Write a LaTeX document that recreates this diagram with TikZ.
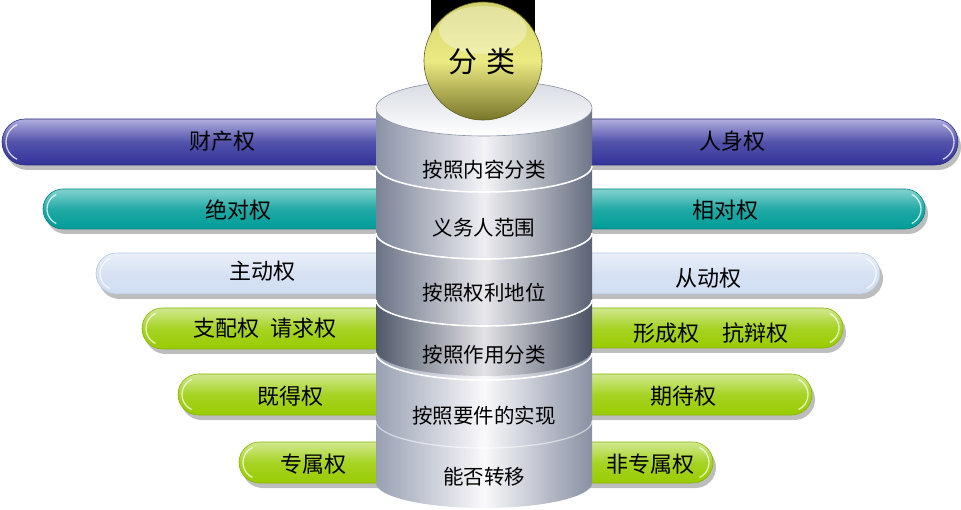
\documentclass[tikz,border=0pt]{standalone}
\usepackage{fontspec}
\newfontfamily\cjk{Noto Sans CJK SC}
\usetikzlibrary{calc}
\definecolor{purpleB}{HTML}{33339A}
\definecolor{purpleT}{HTML}{B0AEDE}
\definecolor{purpleE}{HTML}{2A2A80}
\definecolor{tealB}{HTML}{009C98}
\definecolor{tealT}{HTML}{84D2CE}
\definecolor{tealE}{HTML}{00807C}
\definecolor{lblueB}{HTML}{D0DDF2}
\definecolor{lblueT}{HTML}{EAF0F9}
\definecolor{lblueE}{HTML}{B8C6DC}
\definecolor{greenB}{HTML}{99CC00}
\definecolor{greenT}{HTML}{D0E890}
\definecolor{greenE}{HTML}{88B400}
\definecolor{shadowC}{HTML}{BDBDBD}
\definecolor{sAl}{HTML}{8A92A6}\definecolor{sAm}{HTML}{F4F4F7}\definecolor{sAr}{HTML}{6E7688}
\definecolor{sBl}{HTML}{7A8296}\definecolor{sBm}{HTML}{EEEEF2}\definecolor{sBr}{HTML}{646C7E}
\definecolor{sCl}{HTML}{6A7286}\definecolor{sCm}{HTML}{E8E8EC}\definecolor{sCr}{HTML}{5A6274}
\definecolor{sDl}{HTML}{50586A}\definecolor{sDm}{HTML}{E2E2E6}\definecolor{sDr}{HTML}{4A5264}
\definecolor{sLl}{HTML}{98A0B2}\definecolor{sLm}{HTML}{FAFAFC}\definecolor{sLr}{HTML}{8890A2}
\definecolor{topF}{HTML}{D6DAE2}
\definecolor{ballT}{HTML}{D2D06A}
\definecolor{ballM}{HTML}{ECEA82}
\definecolor{ballB}{HTML}{78762A}
\definecolor{ballE}{HTML}{5E5C1C}

\newcommand{\mkleftbar}[7]{%
  \pgfmathsetmacro\rr{(#3-#2)/2}%
  \pgfmathsetmacro\cyy{(#3+#2)/2}%
  \pgfmathsetmacro\cxx{#1+\rr}%
  \pgfmathsetmacro\rh{\rr-4}%
  \fill[shadowC, rounded corners=\rr pt] (#1+3,#2+5) rectangle (#7+3,#3+5);
  \shade[top color=#4, bottom color=#5, middle color=#5!75!#4, draw=#6, line width=.6pt, rounded corners=\rr pt] (#1,#2) rectangle (#7,#3);
  \draw[white, opacity=.75, line width=1.3pt] ($(\cxx,\cyy)+(115:\rh)$) arc[start angle=115, end angle=245, radius=\rh];
}
\newcommand{\mkrightbar}[7]{%
  \pgfmathsetmacro\rr{(#3-#2)/2}%
  \pgfmathsetmacro\cyy{(#3+#2)/2}%
  \pgfmathsetmacro\cxx{#1-\rr}%
  \pgfmathsetmacro\rh{\rr-4}%
  \fill[shadowC, rounded corners=\rr pt] (#7+3,#2+5) rectangle (#1+3,#3+5);
  \shade[top color=#4, bottom color=#5, middle color=#5!75!#4, draw=#6, line width=.6pt, rounded corners=\rr pt] (#7,#2) rectangle (#1,#3);
  \draw[white, opacity=.75, line width=1.3pt] ($(\cxx,\cyy)+(-65:\rh)$) arc[start angle=-65, end angle=65, radius=\rh];
}

\begin{document}
\begin{tikzpicture}[x=1pt,y=-1pt,
  lbl/.style={font=\cjk\fontsize{22}{24}\selectfont, inner sep=0pt, text=black},
  segtxt/.style={font=\cjk\fontsize{20.5}{22}\selectfont, inner sep=0pt, text=black},
  balltxt/.style={font=\cjk\fontsize{29}{31}\selectfont, inner sep=0pt, text=black},
  seam/.style={white, line width=1.6pt},
]
\useasboundingbox (0,0) rectangle (961,510);

% ---- left bars ----
\mkleftbar{2}{119}{165}{purpleT}{purpleB}{purpleE}{484}
\mkleftbar{43}{189}{229}{tealT}{tealB}{tealE}{484}
\mkleftbar{96}{253}{294}{lblueT}{lblueB}{lblueE}{484}
\mkleftbar{142}{308}{349}{greenT}{greenB}{greenE}{484}
\mkleftbar{178}{374}{415}{greenT}{greenB}{greenE}{484}
\mkleftbar{239}{442}{483}{greenT}{greenB}{greenE}{484}
% ---- right bars ----
\mkrightbar{958}{119}{165}{purpleT}{purpleB}{purpleE}{484}
\mkrightbar{925}{189}{229}{tealT}{tealB}{tealE}{484}
\mkrightbar{880}{253}{294}{lblueT}{lblueB}{lblueE}{484}
\mkrightbar{843}{308}{348}{greenT}{greenB}{greenE}{484}
\mkrightbar{812}{374}{415}{greenT}{greenB}{greenE}{484}
\mkrightbar{713}{442}{483}{greenT}{greenB}{greenE}{484}

% ---- bar labels ----
\node[lbl] (l1) at (222,141) {财产权};
\node[lbl] (l2) at (238,210) {绝对权};
\node[lbl] (l3) at (262,271) {主动权};
\node[lbl] (l4) at (265,328) {支配权\hspace{11pt}请求权};
\node[lbl] (l5) at (290,396) {既得权};
\node[lbl] (l6) at (313,464) {专属权};
\node[lbl] (r1) at (732,141) {人身权};
\node[lbl] (r2) at (725,210) {相对权};
\node[lbl] (r3) at (708,278) {从动权};
\node[lbl] (r4) at (711,333) {形成权\hspace{24pt}抗辩权};
\node[lbl] (r5) at (683,396) {期待权};
\node[lbl] (r6) at (650,464) {非专属权};

% ---- lower cylinder ----
\shade[left color=sLl, right color=sLr, middle color=sLm]
  (376,352) -- (376,483) arc[start angle=180, end angle=0, x radius=108, y radius=25] -- (592,352) -- cycle;
\draw[white, opacity=.55, line width=1.2pt] (376,421) arc[start angle=180, end angle=0, x radius=108, y radius=27];
\draw[seam] (376,353) arc[start angle=180, end angle=0, x radius=108, y radius=27];

% ---- upper cylinder (bottom segment first) ----
\shade[left color=sDl, right color=sDr, middle color=sDm]
  (376,299) -- (376,350) arc[start angle=180, end angle=0, x radius=108, y radius=26] -- (592,299) -- cycle;
\shade[left color=sCl, right color=sCr, middle color=sCm]
  (376,232) -- (376,299) arc[start angle=180, end angle=0, x radius=108, y radius=26] -- (592,232) -- cycle;
\shade[left color=sBl, right color=sBr, middle color=sBm]
  (376,165) -- (376,232) arc[start angle=180, end angle=0, x radius=108, y radius=26] -- (592,165) -- cycle;
\shade[left color=sAl, right color=sAr, middle color=sAm]
  (376,108) -- (376,165) arc[start angle=180, end angle=0, x radius=108, y radius=26] -- (592,108) -- cycle;
\draw[seam] (376,166) arc[start angle=180, end angle=0, x radius=108, y radius=26];
\draw[seam] (376,233) arc[start angle=180, end angle=0, x radius=108, y radius=26];
\draw[seam] (376,300) arc[start angle=180, end angle=0, x radius=108, y radius=26];
\shade[top color=topF, bottom color=white, draw=sAl, line width=.6pt]
  (484,108) ellipse[x radius=108, y radius=28];

% ---- segment labels ----
\node[segtxt] (s1) at (484,170) {按照内容分类};
\node[segtxt] (s2) at (484,228) {义务人范围};
\node[segtxt] (s3) at (484,293) {按照权利地位};
\node[segtxt] (s4) at (484,355) {按照作用分类};
\node[segtxt] (s5) at (484,416) {按照要件的实现};
\node[segtxt] (s6) at (484,477) {能否转移};

% ---- ball ----
\fill[black] (431,0) rectangle (535,40);
\shade[top color=ballT, bottom color=ballB, middle color=ballM, draw=ballE, line width=.6pt]
  (483,61) circle[radius=59];
\fill[white, opacity=.35] (483,30) ellipse[x radius=44, y radius=24];
\node[balltxt] (ball) at (482,62) {分\hspace{10pt}类};
\end{tikzpicture}
\end{document}
